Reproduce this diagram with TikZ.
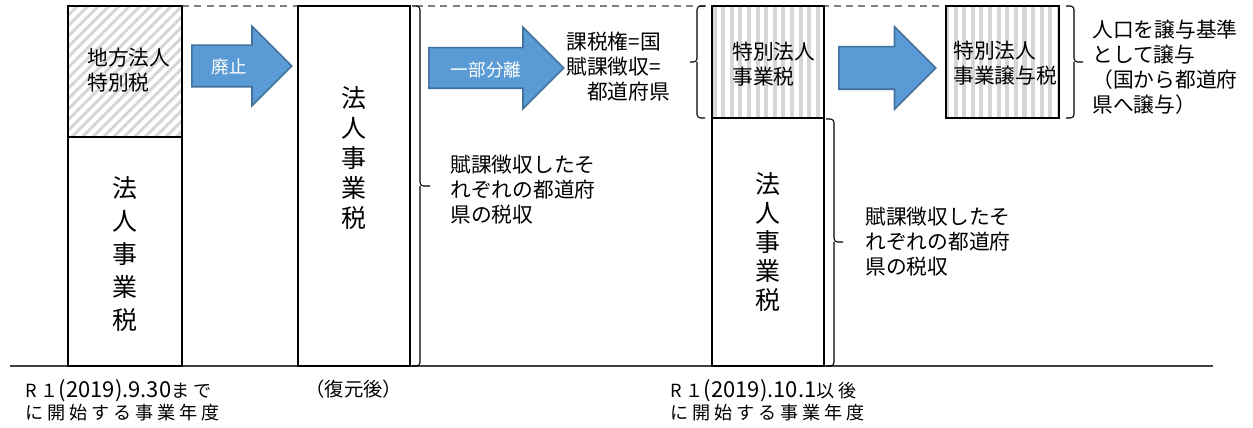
\documentclass[tikz,border=0pt]{standalone}
\usepackage{fontspec}
\setmainfont{Noto Sans CJK JP}
\newfontfamily\kikanfont[LetterSpace=22]{Noto Sans CJK JP}
\usetikzlibrary{shapes.arrows,patterns.meta,fit}

\definecolor{arrowfill}{HTML}{5B9BD5}
\definecolor{arrowedge}{HTML}{41719C}
\definecolor{stripegray}{HTML}{D6D6D6}

\newcommand\hakoji{\fontsize{11.8}{14.2}\selectfont}
\newcommand\yajiji{\fontsize{10}{12}\selectfont}
\newcommand\kikanji{\kikanfont\fontsize{10.3}{12.5}\selectfont}
\newcommand\hizuke[1]{{\normalfont\fontsize{12.5}{12.5}\selectfont #1}}

\begin{document}
\begin{tikzpicture}[x = 0.02cm, y = -0.02cm,
	zeibox/.style = {draw, line width=1.4pt, inner sep=0pt},
	naname/.style = {pattern={Lines[angle=45,distance=4.2pt,line width=1.7pt]}, pattern color=stripegray},
	tatesen/.style = {pattern={Lines[angle=90,distance=4.9pt,line width=2.3pt]}, pattern color=stripegray},
	yajirushi/.style = {single arrow, draw=arrowedge, fill=arrowfill, line width=0.9pt, anchor=tail, inner xsep=0pt},
	yajimoji/.style = {text=white, font=\yajiji},
	setsumei/.style = {anchor=west, align=left, inner sep=0pt, font=\hakoji},
	tate/.style = {align=center, inner sep=0pt},
	kakko/.style = {line width=0.6pt, rounded corners=2pt},
	]
	\useasboundingbox (0,0) rectangle (1253,428);

	% top dashed line and base line
	\draw[gray, line width=1pt, dash pattern=on 4pt off 3pt] (182,6) -- (946,6);
	\draw[black!75, line width=0.6pt] (10,366) -- (1213,366);

	% boxes
	\node[zeibox, naname, fit={(68,6) (182,137)}] (chihou) {};
	\node[zeibox, fit={(68,137) (182,366)}] (houjin1) {};
	\node[zeibox, fill=white, fit={(298,6) (410,366)}] (houjin2) {};
	\node[zeibox, tatesen, fit={(712,6) (824,118)}] (tokubetsu) {};
	\node[zeibox, fit={(712,118) (824,366)}] (houjin3) {};
	\node[zeibox, tatesen, fit={(946,6) (1059,118)}] (jouyo) {};

	% texts in boxes
	\node[setsumei] (chihoutxt) at (87,70) {地方法人\\特別税};
	\node[setsumei] (tokubetsutxt) at (732,64) {特別法人\\事業税};
	\node[setsumei] (jouyotxt) at (953,63) {特別法人\\事業譲与税};
	\node[tate, font={\fontsize{14.2}{18.8}\selectfont}] (tate1) at (125,254) {法\\人\\事\\業\\税};
	\node[tate, font={\fontsize{14.2}{17}\selectfont}] (tate2) at (354,158) {法\\人\\事\\業\\税};
	\node[tate, font={\fontsize{14.2}{16.6}\selectfont}] (tate3) at (768,242) {法\\人\\事\\業\\税};

	% arrows
	\node[yajirushi, minimum height=2cm, minimum width=1.56cm, inner ysep=0.4cm, single arrow head extend=0.38cm] (haishi) at (191,66) {};
	\node[yajimoji] (haishitxt) at (229,67) {廃止};
	\node[yajirushi, minimum height=2.7cm, minimum width=1.6cm, inner ysep=0.39cm, single arrow head extend=0.41cm] (bunri) at (428,68) {};
	\node[yajimoji] (bunritxt) at (486,70) {一部分離};
	\node[yajirushi, minimum height=1.94cm, minimum width=1.6cm, inner ysep=0.41cm, single arrow head extend=0.4cm] (jouyoya) at (838,68) {};

	% explanations
	\node[setsumei] (kazei) at (566,67) {課税権=国\\賦課徴収=\\　都道府県};
	\node[setsumei] (fuka1) at (450,190) {賦課徴収したそ\\れぞれの都道府\\県の税収};
	\node[setsumei] (fuka2) at (865,242) {賦課徴収したそ\\れぞれの都道府\\県の税収};
	\node[setsumei] (jinkou) at (1092,67) {人口を譲与基準\\として譲与\\（国から都道府\\県へ譲与）};

	% brackets
	\draw[kakko] (412,6) -| (420,186) -- (430,186) (420,186) |- (412,366);
	\draw[kakko] (705,6) -| (697,62) -- (690,62) (697,62) |- (705,118);
	\draw[kakko] (826,119) -| (834,242) -- (843,242) (834,242) |- (826,366);
	\draw[kakko] (1066,6) -| (1074,62) -- (1083,62) (1074,62) |- (1066,118);

	% periods
	\node[setsumei, font=\kikanji] (mae) at (25,400) {R１\hizuke{(2019).9.30}まで\\に開始する事業年度};
	\node[setsumei, font=\hizuke{}] (fukugen) at (305,389) {\fontsize{11}{13}\selectfont（復元後）};
	\node[setsumei, font=\kikanji] (ato) at (670,400) {R１\hizuke{(2019).10.1}以後\\に開始する事業年度};
\end{tikzpicture}
\end{document}
